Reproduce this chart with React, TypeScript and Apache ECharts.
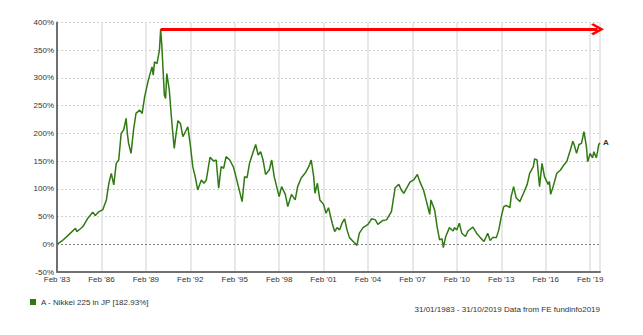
import React, { useEffect, useRef } from "react";
import * as echarts from "echarts";

// Months since Feb 1983 (0 = Feb '83, 440 = Oct '19)
const months = [
  0, 4, 9, 15, 16, 19, 21, 25, 29, 31, 34, 37, 40, 42, 44, 46, 48, 50, 52, 54, 56, 57, 58, 60, 62, 64, 67, 69, 71, 74,
  77, 78, 79, 81, 83, 84, 85, 87, 88, 89, 91, 93, 95, 96, 98, 100, 102, 106, 108, 110, 112, 114, 117, 119, 121, 124,
  127, 129, 131, 133, 135, 137, 140, 143, 145, 147, 150, 152, 154, 156, 159, 161, 163, 165, 167, 169, 172, 174, 176,
  178, 180, 182, 185, 187, 190, 193, 195, 198, 201, 204, 206, 208, 209, 211, 213, 216, 218, 220, 223, 225, 227, 229,
  231, 233, 235, 237, 240, 243, 245, 248, 252, 255, 258, 260, 264, 267, 271, 274, 277, 279, 281, 283, 286, 289, 292,
  294, 297, 300, 302, 303, 306, 308, 310, 312, 313, 315, 318, 321, 322, 324, 326, 328, 331, 333, 337, 340, 343, 346,
  349, 351, 353, 356, 358, 360, 362, 364, 367, 368, 370, 372, 375, 378, 381, 383, 386, 387, 389, 391, 393, 395, 398,
  399, 400, 402, 405, 408, 411, 413, 416, 418, 419, 421, 423, 425, 427, 429, 430, 432, 434, 435, 437, 438, 439, 440,
];
// Cumulative performance, %
const values = [
  0, 6, 16, 29, 23, 28, 32, 47, 58, 52, 59, 62, 80, 110, 128, 107, 146, 152, 200, 206, 227, 200, 182, 164, 206, 236,
  242, 236, 266, 296, 320, 305, 329, 326, 350, 388, 356, 269, 263, 308, 278, 221, 173, 191, 223, 218, 194, 212, 180,
  140, 122, 98, 116, 110, 116, 157, 150, 152, 101, 140, 137, 158, 152, 139, 122, 104, 77, 122, 120, 146, 167, 180,
  161, 167, 152, 126, 134, 152, 122, 104, 86, 104, 90, 68, 90, 80, 104, 120, 128, 140, 152, 122, 92, 110, 80, 72, 56,
  66, 38, 23, 30, 26, 38, 46, 26, 12, 5, -2, 20, 30, 36, 46, 44, 36, 43, 44, 59, 102, 108, 98, 92, 100, 112, 116, 126,
  113, 98, 72, 54, 80, 62, 32, 8, 10, -6, 14, 30, 24, 30, 26, 38, 20, 14, 24, 31, 20, 12, 5, 20, 7, 12, 12, 26, 50,
  68, 70, 66, 86, 104, 84, 77, 92, 108, 128, 140, 154, 152, 104, 146, 122, 108, 113, 90, 104, 128, 134, 144, 149, 170,
  186, 180, 164, 180, 182, 203, 176, 149, 164, 156, 167, 156, 167, 180, 182.93,
];
const startYear = 1983;
const seriesName = "A - Nikkei 225 in JP [182.93%]";
const sourceText = "31/01/1983 - 31/10/2019 Data from FE fundinfo2019";

const FONT = "'Liberation Sans', Arial, sans-serif";
const GREEN = "#2f7a12";

export default function App() {
  const ref = useRef<HTMLDivElement>(null);
  useEffect(() => {
    if (!ref.current) return;
    const chart = echarts.init(ref.current, null, { renderer: "svg" });
    const data = months.map((m, i) => [m, values[i]]);
    let peakIdx = 0;
    values.forEach((v, i) => {
      if (v > values[peakIdx]) peakIdx = i;
    });
    const peakM = months[peakIdx];
    const peakV = values[peakIdx];
    const chevron = "path://M6,0 L12,10 L10.4,12 L6,4.6 L1.6,12 L0,10 Z";
    chart.setOption({
      animation: false,
      textStyle: { fontFamily: FONT },
      grid: { left: 57, right: 43, top: 22.5, bottom: 63 },
      xAxis: {
        type: "value",
        min: 0,
        max: 440,
        interval: 36,
        axisLine: { show: true, onZero: false, lineStyle: { color: "#707070", width: 2 } },
        axisTick: { show: false },
        axisLabel: {
          fontSize: 8,
          color: "#333",
          margin: 3,
          fontFamily: FONT,
          showMaxLabel: false,
          formatter: (v: number) => {
            if (v % 36 !== 0) return "";
            const y = startYear + v / 12;
            return "Feb '" + String(y % 100).padStart(2, "0");
          },
        },
        splitLine: { show: true, lineStyle: { color: "#e0e0e0", width: 1.5, type: "solid" } },
      },
      yAxis: {
        type: "value",
        min: -50,
        max: 400,
        interval: 50,
        axisLine: { show: true, onZero: false, lineStyle: { color: "#707070", width: 2 } },
        axisTick: { show: false },
        axisLabel: { fontSize: 8, color: "#333", margin: 3, fontFamily: FONT, formatter: "{value}%" },
        splitLine: { show: true, lineStyle: { color: "#d0d0d0", width: 1, type: [2, 2] } },
      },
      legend: {
        left: 25,
        top: 293,
        icon: "rect",
        itemWidth: 6,
        itemHeight: 6,
        itemGap: 4,
        textStyle: { fontSize: 8, color: "#333", fontFamily: FONT },
        data: [seriesName],
      },
      graphic: [
        {
          type: "text",
          right: 43,
          top: 305,
          style: { text: sourceText, fontSize: 8, fill: "#333", fontFamily: FONT },
        },
      ],
      series: [
        {
          name: seriesName,
          type: "line",
          data,
          showSymbol: false,
          symbol: "none",
          itemStyle: { color: GREEN },
          lineStyle: { color: GREEN, width: 1.5 },
          endLabel: {
            show: true,
            formatter: "A",
            fontSize: 8,
            fontWeight: "bold",
            color: "#333",
            distance: 3,
          },
          markLine: {
            silent: true,
            animation: false,
            symbol: ["none", "none"],
            label: { show: false },
            data: [
              [
                {
                  coord: [peakM, peakV],
                  symbol: "none",
                  lineStyle: { color: "#ff0000", width: 3, type: "solid" },
                  itemStyle: { color: "#ff0000" },
                },
                {
                  coord: [438, peakV],
                  symbol: chevron,
                  symbolSize: [12, 13],
                  itemStyle: { color: "#ff0000" },
                },
              ],
              {
                yAxis: 0,
                symbol: "none",
                lineStyle: { color: "#808080", width: 1, type: [2, 2] },
              },
            ],
          },
        },
      ],
    });
    return () => chart.dispose();
  }, []);
  return <div ref={ref} style={{ position: "absolute", left: 0, top: 0, width: 643, height: 335 }} />;
}
